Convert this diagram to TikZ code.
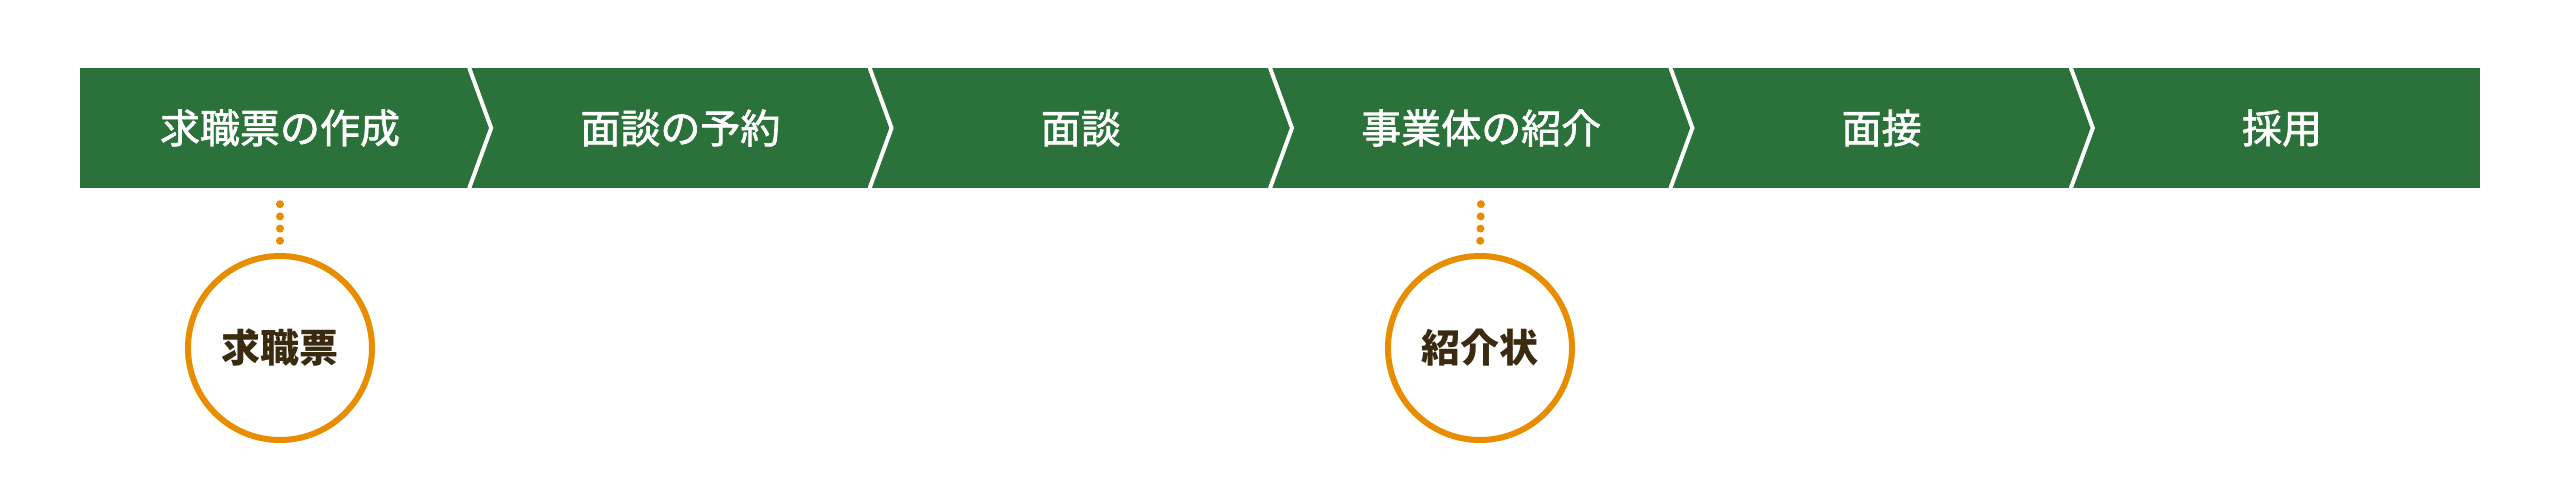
\documentclass[tikz,border=0pt]{standalone}
\usepackage{fontspec}
\newfontfamily\jpfont[FakeBold=1.6]{Noto Sans CJK JP}
\newfontfamily\jpdocfont{Noto Sans CJK JP}
\usepackage{tikz}
\usetikzlibrary{positioning,chains,calc}
\definecolor{flowgreen}{RGB}{42,113,58}
\definecolor{docorange}{RGB}{232,140,0}
\definecolor{docbrown}{RGB}{58,42,16}

\begin{document}
\begin{tikzpicture}[x=1pt,y=-1pt,
  stepnode/.style={minimum width=400pt,minimum height=120pt,inner sep=0pt,
    text=white,font=\jpfont\fontsize{40}{40}\selectfont},
  sepline/.style={draw=white,line width=4pt},
  docnode/.style={circle,draw=docorange,line width=6pt,minimum size=184pt,
    inner sep=0pt,text=docbrown,font=\jpdocfont\bfseries\fontsize{39}{39}\selectfont},
  dotline/.style={docorange,line width=8pt,line cap=round,
    dash pattern=on 0pt off 12.2pt,shorten <=16pt,shorten >=12pt}
]
\useasboundingbox (0,0) rectangle (2560,480);

% the green bar
\fill[flowgreen] (80,68) rectangle (2480,188);

% the steps
\begin{scope}[start chain=going right,node distance=0pt]
  \node[stepnode,on chain] at (280,128) (s1) {求職票の作成};
  \node[stepnode,on chain] (s2) {面談の予約};
  \node[stepnode,on chain] (s3) {面談};
  \node[stepnode,on chain] (s4) {事業体の紹介};
  \node[stepnode,on chain] (s5) {面接};
  \node[stepnode,on chain] (s6) {採用};
\end{scope}

% the chevrons between steps
\foreach \i in {1,...,5}
  \draw[sepline] ($(s\i.north east)+(-11,0)$) -- ($(s\i.east)+(11,0)$)
    -- ($(s\i.south east)+(-11,0)$);

% the documents
\node[docnode] at (280,348) (doc1) {求職票};
\node[docnode] at (1480,348) (doc4) {紹介状};

% the dotted links
\draw[dotline] (s1.south) -- (doc1.north);
\draw[dotline] (s4.south) -- (doc4.north);
\end{tikzpicture}
\end{document}
